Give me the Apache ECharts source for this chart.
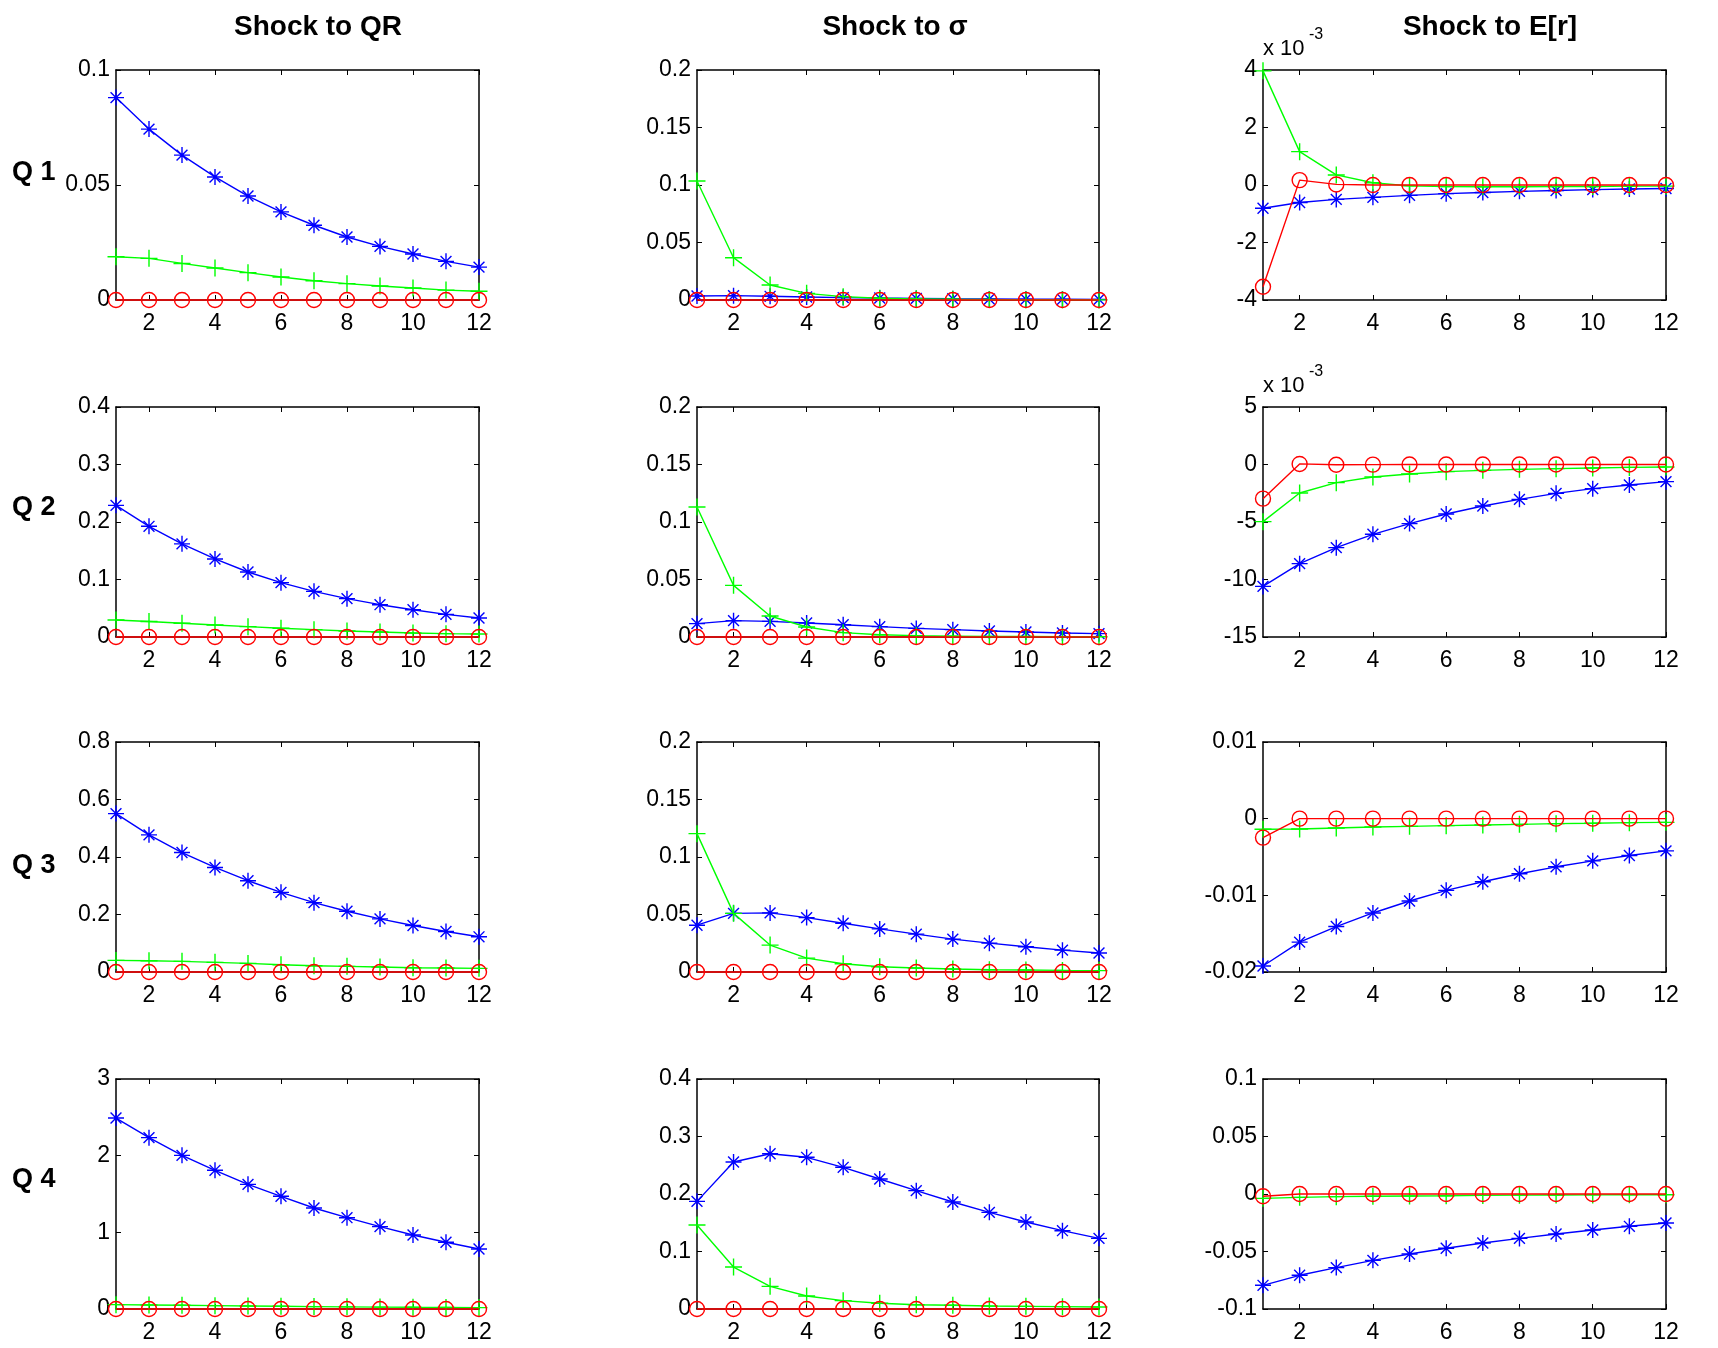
<!DOCTYPE html>
<html><head><meta charset="utf-8">
<script src="https://cdn.jsdelivr.net/npm/echarts@6/dist/echarts.min.js"></script>
<style>html,body{margin:0;padding:0;background:#fff}#c{width:1718px;height:1348px}</style>
</head><body><div id="c"></div>
<script>
// ---------- DATA ----------
const horizons = [1,2,3,4,5,6,7,8,9,10,11,12];
const xTicks = [2,4,6,8,10,12];
const colTitles = ['Shock to QR', 'Shock to σ', 'Shock to E[r]'];
const rowLabels = ['Q 1', 'Q 2', 'Q 3', 'Q 4'];

// y-axis [min, max, interval] per column, one list per row
const yAxes_q1 = [[0, 0.1, 0.05], [0, 0.2, 0.05], [-0.004, 0.004, 0.002]];
const yAxes_q2 = [[0, 0.4, 0.1], [0, 0.2, 0.05], [-0.015, 0.005, 0.005]];
const yAxes_q3 = [[0, 0.8, 0.2], [0, 0.2, 0.05], [-0.02, 0.01, 0.01]];
const yAxes_q4 = [[0, 3, 1], [0, 0.4, 0.1], [-0.1, 0.1, 0.05]];
// columns whose labels are shown as multiples of 10^-3
const scaled_q1 = [false, false, true];
const scaled_q2 = [false, false, true];
const scaled_q3 = [false, false, false];
const scaled_q4 = [false, false, false];

// Q1
const q1_qr_star   = [0.0880, 0.0743, 0.0630, 0.0535, 0.0452, 0.0383, 0.0325, 0.0274, 0.0233, 0.0200, 0.0168, 0.0143];
const q1_qr_plus   = [0.0188, 0.0181, 0.0159, 0.0139, 0.0119, 0.0100, 0.0084, 0.0071, 0.0061, 0.0052, 0.0043, 0.0038];
const q1_qr_circle = [0, 0, 0, 0, 0, 0, 0, 0, 0, 0, 0, 0];
const q1_sg_star   = [0.0035, 0.0038, 0.0032, 0.0026, 0.0021, 0.0017, 0.0014, 0.0011, 0.0009, 0.0007, 0.0006, 0.0005];
const q1_sg_plus   = [0.1035, 0.0368, 0.0130, 0.0058, 0.0029, 0.0015, 0.0010, 0.0006, 0.0004, 0.0003, 0.0002, 0.0001];
const q1_sg_circle = [0, 0, 0, 0, 0, 0, 0, 0, 0, 0, 0, 0];
const q1_er_star   = [-0.00081, -0.00061, -0.00050, -0.00043, -0.00036, -0.00030, -0.00026, -0.00022, -0.00019, -0.00016, -0.00014, -0.00012];
const q1_er_plus   = [0.00397, 0.00116, 0.00035, 0.00008, -0.00003, -0.00005, -0.00006, -0.00006, -0.00005, -0.00005, -0.00004, -0.00004];
const q1_er_circle = [-0.00354, 0.00017, 0.00002, 0, 0, 0, 0, 0, 0, 0, 0, 0];

// Q2
const q2_qr_star   = [0.2290, 0.1925, 0.1620, 0.1357, 0.1130, 0.0945, 0.0794, 0.0667, 0.0562, 0.0475, 0.0394, 0.0330];
const q2_qr_plus   = [0.0296, 0.0270, 0.0238, 0.0209, 0.0180, 0.0151, 0.0128, 0.0104, 0.0087, 0.0070, 0.0058, 0.0052];
const q2_qr_circle = [0, 0, 0, 0, 0, 0, 0, 0, 0, 0, 0, 0];
const q2_sg_star   = [0.0116, 0.0142, 0.0136, 0.0122, 0.0107, 0.0090, 0.0075, 0.0064, 0.0052, 0.0043, 0.0035, 0.0029];
const q2_sg_plus   = [0.1130, 0.0449, 0.0183, 0.0087, 0.0038, 0.0020, 0.0012, 0.0008, 0.0005, 0.0004, 0.0003, 0.0002];
const q2_sg_circle = [0, 0, 0, 0, 0, 0, 0, 0, 0, 0, 0, 0];
const q2_er_star   = [-0.01060, -0.00862, -0.00723, -0.00607, -0.00514, -0.00430, -0.00361, -0.00303, -0.00251, -0.00210, -0.00178, -0.00149];
const q2_er_plus   = [-0.00497, -0.00248, -0.00158, -0.00109, -0.00083, -0.00062, -0.00051, -0.00042, -0.00036, -0.00030, -0.00025, -0.00022];
const q2_er_circle = [-0.00297, 0.00005, -0.00002, -0.00001, 0, 0, 0, 0, 0, 0, 0, 0];

// Q3
const q3_qr_star   = [0.5510, 0.4770, 0.4156, 0.3636, 0.3175, 0.2770, 0.2413, 0.2113, 0.1847, 0.1616, 0.1408, 0.1224];
const q3_qr_plus   = [0.0404, 0.0390, 0.0370, 0.0335, 0.0300, 0.0254, 0.0219, 0.0196, 0.0173, 0.0150, 0.0139, 0.0127];
const q3_qr_circle = [0, 0, 0, 0, 0, 0, 0, 0, 0, 0, 0, 0];
const q3_sg_star   = [0.0407, 0.0510, 0.0514, 0.0473, 0.0424, 0.0375, 0.0329, 0.0286, 0.0251, 0.0219, 0.0190, 0.0165];
const q3_sg_plus   = [0.1203, 0.0510, 0.0234, 0.0121, 0.0072, 0.0046, 0.0035, 0.0026, 0.0020, 0.0017, 0.0014, 0.0012];
const q3_sg_circle = [0, 0, 0, 0, 0, 0, 0, 0, 0, 0, 0, 0];
const q3_er_star   = [-0.01922, -0.01610, -0.01407, -0.01230, -0.01074, -0.00935, -0.00823, -0.00719, -0.00628, -0.00550, -0.00480, -0.00420];
const q3_er_plus   = [-0.00139, -0.00134, -0.00121, -0.00108, -0.00100, -0.00091, -0.00082, -0.00074, -0.00065, -0.00060, -0.00052, -0.00048];
const q3_er_circle = [-0.00247, 0, 0, 0, 0, 0, 0, 0, 0, 0, 0, 0];

// Q4
const q4_qr_star   = [2.491, 2.235, 2.004, 1.809, 1.626, 1.470, 1.317, 1.191, 1.074, 0.965, 0.870, 0.783];
const q4_qr_plus   = [0.0565, 0.0520, 0.0480, 0.0435, 0.0390, 0.0350, 0.0310, 0.0280, 0.0250, 0.0220, 0.0200, 0.0180];
const q4_qr_circle = [0, 0, 0, 0, 0, 0, 0, 0, 0, 0, 0, 0];
const q4_sg_star   = [0.1872, 0.2557, 0.2701, 0.2638, 0.2464, 0.2261, 0.2058, 0.1861, 0.1681, 0.1513, 0.1362, 0.1229];
const q4_sg_plus   = [0.1461, 0.0730, 0.0394, 0.0226, 0.0145, 0.0099, 0.0075, 0.0064, 0.0052, 0.0046, 0.0041, 0.0035];
const q4_sg_circle = [0, 0, 0, 0, 0, 0, 0, 0, 0, 0, 0, 0];
const q4_er_star   = [-0.0794, -0.0707, -0.0640, -0.0577, -0.0522, -0.0472, -0.0426, -0.0386, -0.0348, -0.0313, -0.0281, -0.0252];
const q4_er_plus   = [-0.0038, -0.0029, -0.0023, -0.0020, -0.0017, -0.0015, -0.0012, -0.0010, -0.0009, -0.0008, -0.0007, -0.0006];
const q4_er_circle = [-0.0020, 0, 0, 0, 0, 0, 0, 0, 0, 0, 0, 0];

// ---------- LAYOUT / STYLE ----------
const FONT = '"Liberation Sans", Arial, Helvetica, sans-serif';
const colLeft = [116, 697, 1263];
const colWidth = [363, 402, 403];
const rowTop = [70, 407, 742, 1079];
const plotH = 230;

const rows = [
  { yAxes: yAxes_q1, scaled: scaled_q1, data: [[q1_qr_star, q1_qr_plus, q1_qr_circle], [q1_sg_star, q1_sg_plus, q1_sg_circle], [q1_er_star, q1_er_plus, q1_er_circle]] },
  { yAxes: yAxes_q2, scaled: scaled_q2, data: [[q2_qr_star, q2_qr_plus, q2_qr_circle], [q2_sg_star, q2_sg_plus, q2_sg_circle], [q2_er_star, q2_er_plus, q2_er_circle]] },
  { yAxes: yAxes_q3, scaled: scaled_q3, data: [[q3_qr_star, q3_qr_plus, q3_qr_circle], [q3_sg_star, q3_sg_plus, q3_sg_circle], [q3_er_star, q3_er_plus, q3_er_circle]] },
  { yAxes: yAxes_q4, scaled: scaled_q4, data: [[q4_qr_star, q4_qr_plus, q4_qr_circle], [q4_sg_star, q4_sg_plus, q4_sg_circle], [q4_er_star, q4_er_plus, q4_er_circle]] }
];

const STAR = 'path://M5 0L5 10M0 5L10 5M1.6 1.6L8.4 8.4M8.4 1.6L1.6 8.4';
const PLUS = 'path://M5 0L5 10M0 5L10 5';
const seriesStyles = [
  { color: '#0000ff', symbol: STAR, size: 16, fill: '#0000ff' },
  { color: '#00ff00', symbol: PLUS, size: 17, fill: '#00ff00' },
  { color: '#ff0000', symbol: 'circle', size: 15, fill: 'rgba(0,0,0,0)' }
];

const grid = [], xAxis = [], yAxis = [], series = [], graphic = [];
const axisLineStyle = { color: '#000', width: 1.5 };

rows.forEach((row, r) => {
  for (let c = 0; c < 3; c++) {
    const gi = r * 3 + c;
    grid.push({ left: colLeft[c], top: rowTop[r], width: colWidth[c], height: plotH, containLabel: false });
    const [ymin, ymax, yint] = row.yAxes[c];
    const scaled = row.scaled[c];
    const baseX = {
      type: 'value', gridIndex: gi, min: 1, max: 12,
      axisLine: { show: true, onZero: false, lineStyle: axisLineStyle },
      axisTick: { show: true, inside: true, length: 5, customValues: xTicks, lineStyle: { color: '#000', width: 1 } },
      splitLine: { show: false }
    };
    xAxis.push(Object.assign({}, baseX, {
      position: 'bottom',
      axisLabel: { show: true, customValues: xTicks, color: '#000', fontSize: 23, fontFamily: FONT, margin: 12 }
    }));
    xAxis.push(Object.assign({}, baseX, { position: 'top', axisLabel: { show: false } }));
    const baseY = {
      type: 'value', gridIndex: gi, min: ymin, max: ymax, interval: yint,
      axisLine: { show: true, onZero: false, lineStyle: axisLineStyle },
      axisTick: { show: true, inside: true, length: 5, lineStyle: { color: '#000', width: 1 } },
      splitLine: { show: false }
    };
    yAxis.push(Object.assign({}, baseY, {
      position: 'left',
      axisLabel: {
        show: true, color: '#000', fontSize: 23, fontFamily: FONT, margin: 6,
        formatter: scaled ? (v => String(Math.round(v * 1000))) : null
      }
    }));
    yAxis.push(Object.assign({}, baseY, { position: 'right', axisLabel: { show: false } }));

    row.data[c].forEach((vals, k) => {
      const st = seriesStyles[k];
      series.push({
        type: 'line', xAxisIndex: gi * 2, yAxisIndex: gi * 2,
        data: horizons.map((h, i) => [h, vals[i]]),
        symbol: st.symbol, symbolSize: st.size, showSymbol: true, clip: false,
        lineStyle: { color: st.color, width: 1.4 },
        itemStyle: { color: st.fill, borderColor: st.color, borderWidth: 1.4 },
        emphasis: { disabled: true }, animation: false, z: 2 + k
      });
    });
  }
});

// column titles
const titleX = [318, 895, 1490];
colTitles.forEach((t, c) => {
  graphic.push({ type: 'text', x: titleX[c], y: 27,
    style: { text: t, fill: '#000', font: 'bold 28px ' + FONT, align: 'center', verticalAlign: 'middle' } });
});
// row labels
const rowLabelY = [173, 508, 866, 1180];
rowLabels.forEach((t, r) => {
  graphic.push({ type: 'text', x: 12, y: rowLabelY[r],
    style: { text: t, fill: '#000', font: 'bold 27px ' + FONT, align: 'left', verticalAlign: 'middle' } });
});
// x 10^-3 exponent labels
rows.forEach((row, r) => {
  row.scaled.forEach((s, c) => {
    if (!s) return;
    graphic.push({ type: 'text', x: colLeft[c], y: rowTop[r] - 21,
      style: { text: 'x 10', fill: '#000', font: '22px ' + FONT, align: 'left', verticalAlign: 'middle' } });
    graphic.push({ type: 'text', x: colLeft[c] + 46, y: rowTop[r] - 35,
      style: { text: '-3', fill: '#000', font: '16px ' + FONT, align: 'left', verticalAlign: 'middle' } });
  });
});

const chart = echarts.init(document.getElementById('c'), null, { renderer: 'canvas' });
chart.setOption({ backgroundColor: '#fff', animation: false, grid, xAxis, yAxis, series, graphic });
</script></body></html>
